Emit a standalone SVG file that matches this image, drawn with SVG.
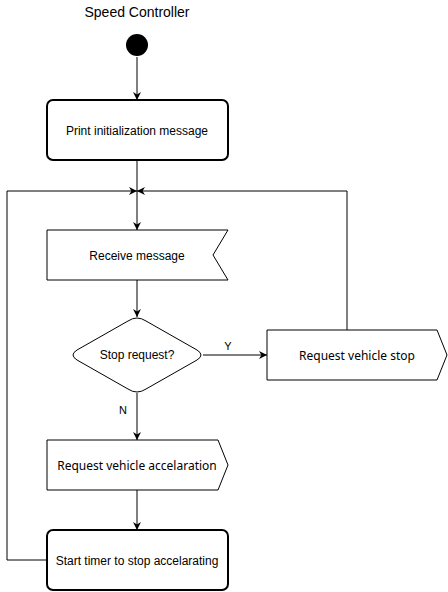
<svg xmlns="http://www.w3.org/2000/svg" width="448" height="592" viewBox="0 0 448 592">
<style>
.t{font-family:"Liberation Sans",Arial,sans-serif;font-size:12px;fill:#000;text-anchor:middle}
.n{font-family:"Noto Sans","Open Sans",sans-serif;font-size:12px;fill:#000;text-anchor:middle}
.s{fill:#fff;stroke:#000;stroke-width:1}
.b{fill:#fff;stroke:#000;stroke-width:2}
.c{fill:none;stroke:#000;stroke-width:1}
</style>
<defs>
<marker id="a" viewBox="0 0 10 10" refX="10" refY="5" markerWidth="8" markerHeight="8" markerUnits="userSpaceOnUse" orient="auto">
<path d="M0,0 L10,5 L0,10 L3,5 Z" fill="#000"/>
</marker>
</defs>
<text x="137" y="17" class="t" style="font-size:14px">Speed Controller</text>
<g id="connectors">
<path class="c" d="M137,57 V100" marker-end="url(#a)"/>
<path class="c" d="M137,160 V230" marker-end="url(#a)"/>
<path class="c" d="M137,280 V317" marker-end="url(#a)"/>
<path class="c" d="M203,355 H267" marker-end="url(#a)"/>
<path class="c" d="M347,330 V191 H137" marker-end="url(#a)"/>
<path class="c" d="M137,393 V440" marker-end="url(#a)"/>
<path class="c" d="M137,490 V530" marker-end="url(#a)"/>
<path class="c" d="M47,560 H7 V191 H137" marker-end="url(#a)"/>
<text x="228" y="350" class="t" style="font-size:11px">Y</text>
<text x="123" y="414" class="t" style="font-size:11px">N</text>
</g>
<g id="start"><circle cx="137" cy="45" r="11" fill="#000"/></g>
<g id="print"><rect class="b" x="47" y="100" width="181" height="60" rx="6"/><text x="137" y="135" class="t">Print initialization message</text></g>
<g id="receive"><path class="s" d="M47,230 H228 L213,255 L228,280 H47 Z"/><text x="137" y="260" class="t">Receive message</text></g>
<g id="decision"><path class="s" d="M128,321 Q137,315 146,321 L197,350 Q205,355 197,360 L146,389 Q137,395 128,389 L77,360 Q69,355 77,350 Z"/><text x="137" y="359" class="t">Stop request?</text></g>
<g id="stop"><path class="s" d="M267,330 H437 L447,355 L437,380 H267 Z"/><text x="357" y="360" class="n">Request vehicle stop</text></g>
<g id="accel"><path class="s" d="M47,440 H218 L228,465 L218,490 H47 Z"/><text x="137" y="470" class="n">Request vehicle accelaration</text></g>
<g id="timer"><rect class="b" x="47" y="530" width="181" height="60" rx="6"/><text x="137" y="565" class="t">Start timer to stop accelarating</text></g>
</svg>
